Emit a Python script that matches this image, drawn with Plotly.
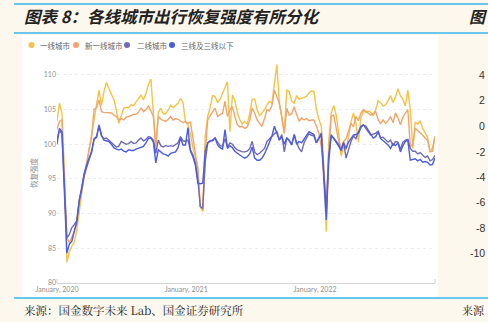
import pandas as pd
import plotly.graph_objects as go

# ---- data -------------------------------------------------------------
SERIES_NAMES = ["一线城市", "新一线城市", "二线城市", "三线及三线以下"]
WEEKS = pd.date_range("2020-01-01", periods=154, freq="7D")
TICK_DATES = ["2020-01-01", "2021-01-01", "2022-01-01"]
TICK_LABELS = ["January, 2020", "January, 2021", "January, 2022"]

tier1 = [
    103.3, 105.9, 104.5, 96.0, 83.0, 84.5, 85.3, 85.9, 87.6, 90.5,
    93.3, 95.5, 97.2, 99.0, 101.3, 103.5, 105.5, 107.8, 105.6, 107.6,
    108.9, 108.0, 107.2, 106.5, 105.0, 103.0, 104.3, 105.2, 105.3, 105.3,
    105.7, 105.6, 106.1, 106.6, 107.1, 106.4, 107.3, 108.6, 109.4, 104.5,
    99.4, 104.6, 105.2, 104.4, 104.4, 104.9, 105.6, 105.3, 105.6, 105.9,
    106.6, 106.0, 103.2, 102.8, 101.5, 99.5, 98.2, 96.8, 91.0, 90.3,
    101.2, 104.0, 105.3, 107.0, 106.9, 106.0, 106.5, 107.3, 108.2, 109.0,
    101.8, 107.1, 106.3, 104.6, 103.5, 102.9, 103.3, 102.9, 104.4, 106.5,
    106.5, 105.0, 104.1, 104.6, 105.0, 105.7, 106.2, 105.9, 108.8, 111.5,
    105.9, 104.0, 101.6, 107.8, 107.6, 106.2, 105.9, 107.0, 106.5, 106.6,
    106.7, 106.9, 107.4, 107.7, 107.6, 105.0, 103.6, 102.6, 97.0, 87.4,
    100.5, 104.5, 105.6, 104.2, 101.6, 98.3, 99.6, 99.2, 101.1, 103.2,
    104.5, 103.0, 100.3, 103.8, 104.8, 104.6, 104.8, 104.6, 104.1, 105.0,
    106.3, 106.0, 105.5, 105.7, 106.3, 107.0, 106.0, 106.8, 108.0, 107.0,
    106.5, 105.5, 107.8, 105.0, 99.4, 103.2, 102.9, 103.4, 102.3, 101.6,
    101.0, 98.9, 99.5, 101.1,
]

new_tier1 = [
    102.1, 103.3, 103.5, 95.5, 86.5, 85.8, 86.6, 87.4, 88.5, 91.5,
    93.4, 95.6, 97.3, 99.3, 101.0, 105.0, 105.3, 106.4, 104.7, 104.6,
    104.6, 104.5, 104.5, 104.2, 104.0, 103.5, 103.7, 103.5, 103.9, 104.0,
    104.2, 104.3, 104.3, 104.6, 105.2, 104.7, 105.0, 105.5, 104.8, 104.0,
    99.7, 104.0, 103.6, 103.4, 103.3, 103.6, 104.0, 103.5, 103.7, 103.6,
    103.4, 103.1, 103.3, 103.0, 103.2, 100.6, 98.7, 96.3, 91.0, 90.5,
    98.7, 103.5, 104.2, 104.7, 105.2, 104.0, 104.3, 104.4, 106.2, 104.0,
    105.0, 105.4, 104.0, 102.8, 102.5, 102.6, 102.3, 102.5, 103.4, 105.2,
    104.5, 103.5, 103.0, 102.6, 103.7, 105.0, 104.8, 105.6, 107.8, 106.8,
    105.9, 104.0, 101.6, 105.2, 104.2, 104.4, 105.4, 104.3, 103.3, 103.8,
    103.5, 103.7, 103.4, 103.5, 103.5, 102.6, 101.6, 99.6, 96.0, 91.8,
    99.0, 104.0, 104.2, 102.1, 100.5, 99.4, 100.4, 100.8, 101.8, 103.0,
    102.5, 104.0, 103.4, 104.5, 105.0, 104.7, 104.5, 104.2, 104.4, 104.7,
    103.5, 103.0, 103.5, 103.0, 103.4, 104.0, 103.1, 104.5, 103.8, 102.8,
    103.9, 104.5, 105.0, 99.7, 99.9, 102.3, 102.0, 101.6, 101.3, 100.9,
    100.6, 98.9, 99.0, 101.1,
]

tier2 = [
    100.8, 102.0, 101.5, 94.5, 86.5, 87.0, 88.0, 88.4, 89.0, 92.0,
    93.5, 95.5, 96.8, 97.8, 98.8, 100.8, 101.1, 102.6, 101.2, 100.8,
    100.9, 100.6, 100.3, 99.9, 99.6, 99.7, 100.4, 100.2, 100.0, 100.1,
    100.4, 100.1, 100.2, 100.6, 100.9, 100.5, 100.7, 101.1, 101.0, 100.6,
    98.7, 100.6, 99.8, 99.6, 99.8, 99.7, 99.8, 99.7, 99.9, 100.2,
    101.1, 100.5, 100.4, 100.6, 99.2, 98.5, 97.4, 95.0, 91.0, 90.8,
    97.5, 100.2, 100.4, 100.6, 100.9, 100.3, 99.8, 99.7, 100.8, 99.6,
    100.2, 100.0, 99.5, 99.2, 99.0, 98.9, 98.9, 99.0, 99.4, 100.4,
    98.9, 98.5, 98.7, 99.0, 99.4, 100.4, 100.8, 101.2, 101.5, 101.8,
    100.6, 101.4, 98.9, 100.9, 100.5, 99.9, 101.4, 100.2, 99.4, 98.9,
    100.2, 100.9, 101.5, 101.3, 101.2, 100.2, 100.9, 101.3, 95.5, 90.5,
    98.5, 101.2, 100.9, 100.5, 100.0, 99.0, 100.3, 98.0, 99.4, 100.4,
    101.2, 100.8, 101.8, 102.6, 102.8, 102.2, 101.8, 101.3, 101.4, 101.6,
    101.9, 100.9, 101.0, 100.7, 100.3, 100.6, 99.8, 100.4, 100.3, 99.3,
    100.3, 100.6, 100.7, 99.4, 99.0, 99.0, 98.6, 98.8, 98.4, 98.1,
    98.3, 97.6, 97.8, 98.4,
]

tier3_below = [
    100.0, 102.3, 101.8, 93.5, 84.3, 85.6, 86.0, 87.5, 88.8, 91.8,
    93.8, 95.8, 97.0, 97.9, 99.0, 100.7, 101.0, 102.8, 101.3, 100.6,
    100.5, 100.4, 100.0, 99.5, 99.3, 99.2, 99.3, 99.0, 98.9, 99.2,
    99.1, 99.1, 99.3, 99.4, 99.5, 99.7, 100.2, 100.8, 100.9, 100.3,
    97.3, 99.2, 98.9, 98.6, 98.5, 98.3, 98.7, 98.8, 98.9, 99.5,
    100.9, 99.9, 99.9, 102.4, 99.0, 98.2, 97.0, 94.4, 94.3, 94.4,
    99.0, 100.2, 100.5, 100.5, 100.9, 99.9, 99.5, 99.3, 102.1, 99.4,
    99.8, 99.5, 99.0, 98.7, 98.4, 98.2, 98.0, 98.2, 98.6, 99.6,
    98.0, 97.7, 97.7, 98.0, 98.6, 99.6, 100.3, 101.2, 102.6, 101.6,
    100.6, 101.1, 100.0, 100.9, 100.6, 99.9, 101.4, 100.0, 100.4, 100.2,
    100.8, 101.4, 101.8, 101.6, 101.4, 100.2, 101.0, 101.6, 94.9, 89.1,
    97.5, 101.4, 100.8, 100.2, 99.6, 99.2, 100.2, 99.4, 100.3, 100.8,
    101.3, 101.4, 101.6, 102.4, 102.8, 102.6, 102.0, 101.3, 100.9, 101.1,
    101.8, 100.8, 100.5, 100.3, 99.9, 99.4, 100.1, 99.8, 100.2, 98.9,
    99.8, 100.4, 100.6, 97.7, 97.8, 97.9, 97.6, 97.8, 97.4, 97.5,
    97.4, 97.0, 97.1, 98.0,
]

SERIES = [tier1, new_tier1, tier2, tier3_below]
COLORS = ["#F6C244", "#F3A46C", "#7269B9", "#4A5CE0"]

# ---- page geometry (pixels) ------------------------------------------
W, H = 488, 322
PL, PR, PT, PB = 57, 435, 61, 283          # plot area edges
BLUE = "#38B6EC"
CREAM = "#FDF8EE"


def px_x(px):
    return (px - PL) / (PR - PL)


def px_y(py):
    return (PB - py) / (PB - PT)


fig = go.Figure()

for name, vals, col in zip(SERIES_NAMES, SERIES, COLORS):
    fig.add_trace(go.Scatter(
        x=WEEKS, y=vals, name=name, mode="lines",
        line=dict(color=col, width=1.4), showlegend=False,
        hoverinfo="skip",
    ))

shapes = []
annotations = []

# white chart card
shapes.append(dict(type="rect", xref="paper", yref="paper", layer="below",
                   x0=px_x(22), x1=px_x(438), y0=px_y(297), y1=px_y(35),
                   fillcolor="white", line=dict(width=0)))

# rules around title and source
for y, x0 in [(4, 14), (33, 14), (298, 14)]:
    shapes.append(dict(type="line", xref="paper", yref="paper",
                       x0=px_x(x0), x1=px_x(490), y0=px_y(y), y1=px_y(y),
                       line=dict(color=BLUE, width=1.6)))

# small end ticks on the date axis
for x in (PL, PR):
    shapes.append(dict(type="line", xref="paper", yref="paper",
                       x0=px_x(x), x1=px_x(x), y0=px_y(283), y1=px_y(279),
                       line=dict(color="#D0D0D0", width=1)))

# legend: dots + labels
legend_pos = [(31.5, 38), (76, 83), (127, 134.5), (172, 179)]
for (cx, tx), name, col in zip(legend_pos, SERIES_NAMES, COLORS):
    r = 3.0
    shapes.append(dict(type="circle", xref="paper", yref="paper",
                       x0=px_x(cx - r), x1=px_x(cx + r),
                       y0=px_y(45 + r), y1=px_y(45 - r),
                       fillcolor=col, line=dict(width=0)))
    annotations.append(dict(text=name, xref="paper", yref="paper",
                            x=px_x(tx), y=px_y(45), xanchor="left",
                            yanchor="middle", showarrow=False,
                            font=dict(family="Noto Sans CJK SC", size=7.5,
                                      color="#666666")))

# y-axis title
annotations.append(dict(text="恢复强度", xref="paper", yref="paper",
                        x=px_x(33), y=px_y(173), textangle=-90,
                        showarrow=False, xanchor="center", yanchor="middle",
                        font=dict(family="Noto Sans CJK SC", size=7.5,
                                  color="#8A8A8A")))

# chart title
annotations.append(dict(text="<b>图表 8：各线城市出行恢复强度有所分化</b>",
                        xref="paper", yref="paper", x=px_x(22), y=px_y(16),
                        xanchor="left", yanchor="middle", showarrow=False,
                        font=dict(family="Noto Sans CJK SC", size=16.5,
                                  color="#222222", style="italic")))
# neighbouring panel title at the page edge
annotations.append(dict(text="<b>图</b>", xref="paper", yref="paper",
                        x=px_x(467), y=px_y(16), xanchor="left",
                        yanchor="middle", showarrow=False,
                        font=dict(family="Noto Sans CJK SC", size=16,
                                  color="#222222", style="italic")))

# source line
annotations.append(dict(text="来源：国金数字未来 Lab、国金证券研究所",
                        xref="paper", yref="paper", x=px_x(22), y=px_y(310),
                        xanchor="left", yanchor="middle", showarrow=False,
                        font=dict(family="Noto Serif CJK SC, Noto Sans CJK SC",
                                  size=11.5, color="#222222")))
annotations.append(dict(text="来源", xref="paper", yref="paper",
                        x=px_x(487), y=px_y(310), xanchor="right",
                        yanchor="middle", showarrow=False,
                        font=dict(family="Noto Serif CJK SC, Noto Sans CJK SC",
                                  size=11, color="#222222")))

# neighbouring panel axis labels along the right edge
for lab, y in [("4", 75), ("2", 100), ("0", 126), ("-2", 152), ("-4", 177),
               ("-6", 202), ("-8", 228), ("-10", 253)]:
    annotations.append(dict(text=lab, xref="paper", yref="paper",
                            x=px_x(487), y=px_y(y), xanchor="right",
                            yanchor="middle", showarrow=False,
                            font=dict(family="Liberation Sans", size=10.5,
                                      color="#333333")))

fig.update_layout(
    width=W, height=H,
    margin=dict(l=PL, r=W - PR, t=PT, b=H - PB, pad=0),
    paper_bgcolor=CREAM,
    plot_bgcolor="rgba(0,0,0,0)",
    showlegend=False,
    shapes=shapes,
    annotations=annotations,
    xaxis=dict(
        type="date",
        range=[WEEKS[0], WEEKS[-1]],
        tickvals=TICK_DATES, ticktext=TICK_LABELS,
        showgrid=False, zeroline=False,
        showline=True, linecolor="#D4D4D4", linewidth=1,
        ticks="", ticklen=0,
        tickfont=dict(family="Lato", size=7, color="#8F8F8F"),
    ),
    yaxis=dict(
        range=[80, 112], tick0=80, dtick=5,
        showgrid=True, gridcolor="#EDEDED", griddash="dot", gridwidth=1,
        zeroline=False, showline=False, ticks="",
        tickfont=dict(family="Lato", size=7, color="#8F8F8F"),
    ),
)

fig.write_html("out.html")
